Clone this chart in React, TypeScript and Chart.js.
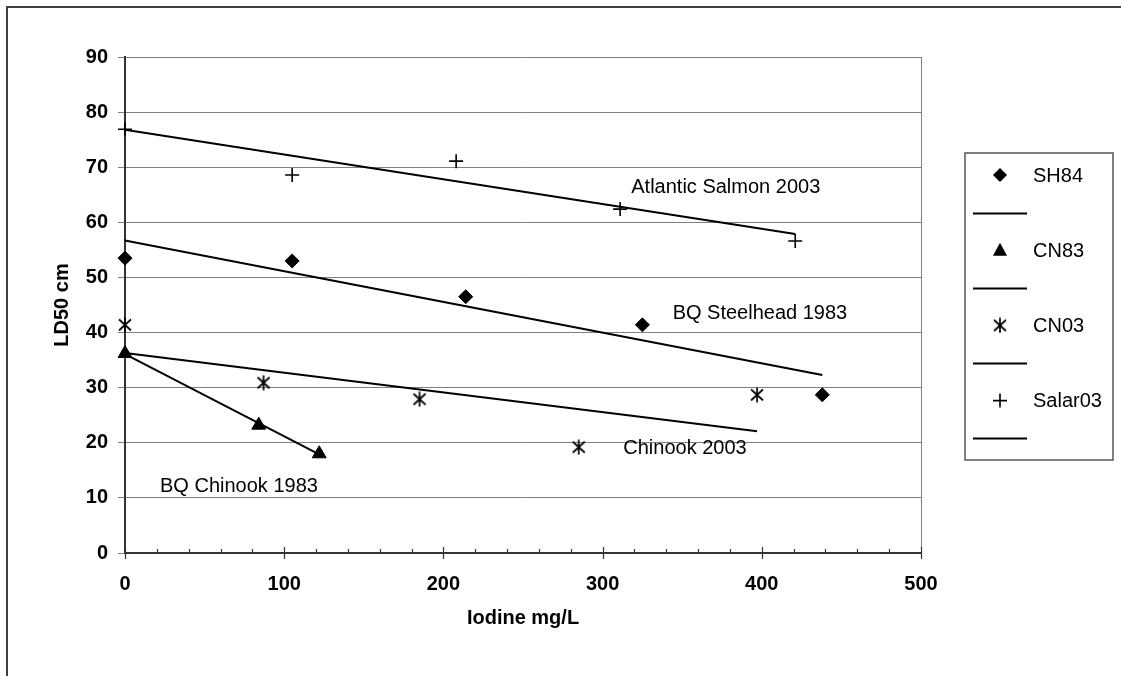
import React, { useEffect, useRef } from 'react';
import { Chart, registerables } from 'chart.js';

Chart.register(...registerables);

// ---- data ----
const sh84X = [0, 105, 214, 325, 438];
const sh84Y = [53.5, 53.0, 46.5, 41.4, 28.7];
const cn83X = [0, 84, 122];
const cn83Y = [36.2, 23.2, 18.0];
const cn03X = [0, 87, 185, 285, 397];
const cn03Y = [41.4, 30.9, 27.9, 19.2, 28.7];
const salarX = [0, 105, 208, 311, 421];
const salarY = [76.9, 68.6, 71.1, 62.4, 56.6];

// trendline end points
const sh84TrendX = [0, 438];
const sh84TrendY = [56.7, 32.3];
const cn83TrendX = [0, 122];
const cn83TrendY = [36.1, 17.9];
const cn03TrendX = [0, 397];
const cn03TrendY = [36.3, 22.1];
const salarTrendX = [0, 421];
const salarTrendY = [76.8, 57.9];

const seriesNames = ['SH84', 'CN83', 'CN03', 'Salar03'];
const markerTypes = ['diamond', 'triangle', 'asterisk', 'plus'];

const xMin = 0;
const xMax = 500;
const xStep = 100;
const xMinorStep = 20;
const yMin = 0;
const yMax = 90;
const yStep = 10;

const xTitle = 'Iodine mg/L';
const yTitle = 'LD50 cm';

const annotationTexts = ['Atlantic Salmon 2003', 'BQ Steelhead 1983', 'Chinook 2003', 'BQ Chinook 1983'];
const annotationX = [318, 344, 313, 22];
const annotationY = [66.4, 43.5, 18.9, 12.0];

const FONT = 'Arial, "Liberation Sans", sans-serif';

function pts(xs: number[], ys: number[]) {
  return xs.map((x, i) => ({ x, y: ys[i] }));
}

function makeAsterisk(): HTMLCanvasElement {
  const c = document.createElement('canvas');
  c.width = 16;
  c.height = 16;
  const g = c.getContext('2d')!;
  g.strokeStyle = '#000';
  g.lineWidth = 1.7;
  g.beginPath();
  g.moveTo(2, 2.5);
  g.lineTo(14, 13.5);
  g.moveTo(14, 2.5);
  g.lineTo(2, 13.5);
  g.moveTo(8, 0.5);
  g.lineTo(8, 15.5);
  g.stroke();
  return c;
}

function drawMarker(ctx: CanvasRenderingContext2D, type: string, x: number, y: number, ast: HTMLCanvasElement) {
  ctx.save();
  ctx.fillStyle = '#000';
  ctx.strokeStyle = '#000';
  ctx.lineWidth = 1.6;
  ctx.beginPath();
  if (type === 'diamond') {
    ctx.moveTo(x, y - 7);
    ctx.lineTo(x + 7, y);
    ctx.lineTo(x, y + 7);
    ctx.lineTo(x - 7, y);
    ctx.closePath();
    ctx.fill();
  } else if (type === 'triangle') {
    ctx.moveTo(x, y - 7.5);
    ctx.lineTo(x + 7, y + 5.5);
    ctx.lineTo(x - 7, y + 5.5);
    ctx.closePath();
    ctx.fill();
  } else if (type === 'asterisk') {
    ctx.drawImage(ast, x - ast.width / 2, y - ast.height / 2);
  } else {
    ctx.moveTo(x - 7, y);
    ctx.lineTo(x + 7, y);
    ctx.moveTo(x, y - 7);
    ctx.lineTo(x, y + 7);
    ctx.stroke();
  }
  ctx.restore();
}

export default function App() {
  const ref = useRef<HTMLCanvasElement>(null);

  useEffect(() => {
    const canvas = ref.current!;
    const ast = makeAsterisk();

    const overlay = {
      id: 'overlay',
      afterDraw(chart: any) {
        const ctx: CanvasRenderingContext2D = chart.ctx;
        const { left, right, top, bottom } = chart.chartArea;
        const xs = chart.scales.x;
        const ys = chart.scales.y;
        ctx.save();

        // plot area right border
        ctx.strokeStyle = '#808080';
        ctx.lineWidth = 1;
        ctx.beginPath();
        ctx.moveTo(Math.round(right) + 0.5, top);
        ctx.lineTo(Math.round(right) + 0.5, bottom);
        ctx.stroke();

        // x axis tick marks
        ctx.strokeStyle = '#333';
        ctx.lineWidth = 1.2;
        ctx.beginPath();
        for (let v = xMin; v <= xMax; v += xMinorStep) {
          const px = Math.round(xs.getPixelForValue(v)) + 0.5;
          if (v % xStep === 0) {
            ctx.moveTo(px, bottom - 6);
            ctx.lineTo(px, bottom + 6);
          } else {
            ctx.moveTo(px, bottom - 4);
            ctx.lineTo(px, bottom);
          }
        }
        ctx.stroke();

        // axis titles
        ctx.fillStyle = '#000';
        ctx.font = `bold 20px ${FONT}`;
        ctx.textAlign = 'center';
        ctx.textBaseline = 'middle';
        ctx.fillText(xTitle, (left + right) / 2, 618);
        ctx.save();
        ctx.translate(62, (top + bottom) / 2);
        ctx.rotate(-Math.PI / 2);
        ctx.fillText(yTitle, 0, 0);
        ctx.restore();

        // annotations
        ctx.font = `20px ${FONT}`;
        ctx.textAlign = 'left';
        ctx.textBaseline = 'middle';
        annotationTexts.forEach((t, i) => {
          ctx.fillText(t, xs.getPixelForValue(annotationX[i]), ys.getPixelForValue(annotationY[i]));
        });

        // legend
        ctx.strokeStyle = '#555';
        ctx.lineWidth = 1.5;
        ctx.strokeRect(965, 153, 148, 307);
        const step = 37.6;
        let ly = 175;
        ctx.font = `20px ${FONT}`;
        seriesNames.forEach((name, i) => {
          drawMarker(ctx, markerTypes[i], 1000, ly, ast);
          ctx.fillStyle = '#000';
          ctx.fillText(name, 1033, ly + 1);
          const lineY = Math.round(ly + step) + 0.5;
          ctx.strokeStyle = '#000';
          ctx.lineWidth = 2;
          ctx.beginPath();
          ctx.moveTo(973, lineY);
          ctx.lineTo(1027, lineY);
          ctx.stroke();
          ly += step * 2;
        });

        // outer chart border (extends past the page)
        ctx.strokeStyle = '#404040';
        ctx.lineWidth = 2;
        ctx.beginPath();
        ctx.moveTo(7, 700);
        ctx.lineTo(7, 7);
        ctx.lineTo(1130, 7);
        ctx.stroke();

        ctx.restore();
      },
    };

    const markerDs = (label: string, data: any[], style: any, radius: number, bw: number) => ({
      type: 'scatter' as const,
      label,
      data,
      pointStyle: style,
      pointRadius: radius,
      pointHoverRadius: radius,
      pointBackgroundColor: '#000',
      pointBorderColor: '#000',
      pointBorderWidth: bw,
      showLine: false,
      clip: false as any,
      order: 0,
    });
    const trendDs = (label: string, data: any[]) => ({
      type: 'line' as const,
      label,
      data,
      borderColor: '#000',
      borderWidth: 2,
      pointRadius: 0,
      fill: false,
      tension: 0,
      clip: false as any,
      order: 1,
    });

    const chart = new Chart(canvas, {
      type: 'scatter',
      data: {
        datasets: [
          markerDs(seriesNames[0], pts(sh84X, sh84Y), 'rectRot', 7, 1),
          markerDs(seriesNames[1], pts(cn83X, cn83Y), 'triangle', 8, 1),
          markerDs(seriesNames[2], pts(cn03X, cn03Y), ast, 8, 1),
          markerDs(seriesNames[3], pts(salarX, salarY), 'cross', 7, 1.6),
          trendDs('SH84 trend', pts(sh84TrendX, sh84TrendY)),
          trendDs('CN83 trend', pts(cn83TrendX, cn83TrendY)),
          trendDs('CN03 trend', pts(cn03TrendX, cn03TrendY)),
          trendDs('Salar03 trend', pts(salarTrendX, salarTrendY)),
        ] as any,
      },
      options: {
        animation: false,
        responsive: false,
        devicePixelRatio: 1,
        layout: { padding: { left: 45, top: 57, right: 200, bottom: 43 } },
        plugins: { legend: { display: false }, tooltip: { enabled: false } },
        scales: {
          x: {
            type: 'linear',
            min: xMin,
            max: xMax,
            afterFit: (s: any) => { s.height = 80; },
            ticks: {
              stepSize: xStep,
              color: '#000',
              font: { family: FONT, size: 20, weight: 'bold' },
              padding: 19,
              maxRotation: 0,
            },
            grid: { display: false, drawTicks: false },
            border: { display: true, color: '#333', width: 2 },
          },
          y: {
            type: 'linear',
            min: yMin,
            max: yMax,
            afterFit: (s: any) => { s.width = 80; },
            ticks: {
              stepSize: yStep,
              color: '#000',
              font: { family: FONT, size: 20, weight: 'bold' },
              padding: 10,
            },
            grid: { color: '#808080', lineWidth: 1, tickLength: 7 },
            border: { display: true, color: '#333', width: 2 },
          },
        },
      },
      plugins: [overlay],
    });

    return () => chart.destroy();
  }, []);

  return (
    <canvas
      ref={ref}
      width={1121}
      height={676}
      style={{ position: 'fixed', left: 0, top: 0, width: 1121, height: 676, background: '#fff' }}
    />
  );
}
